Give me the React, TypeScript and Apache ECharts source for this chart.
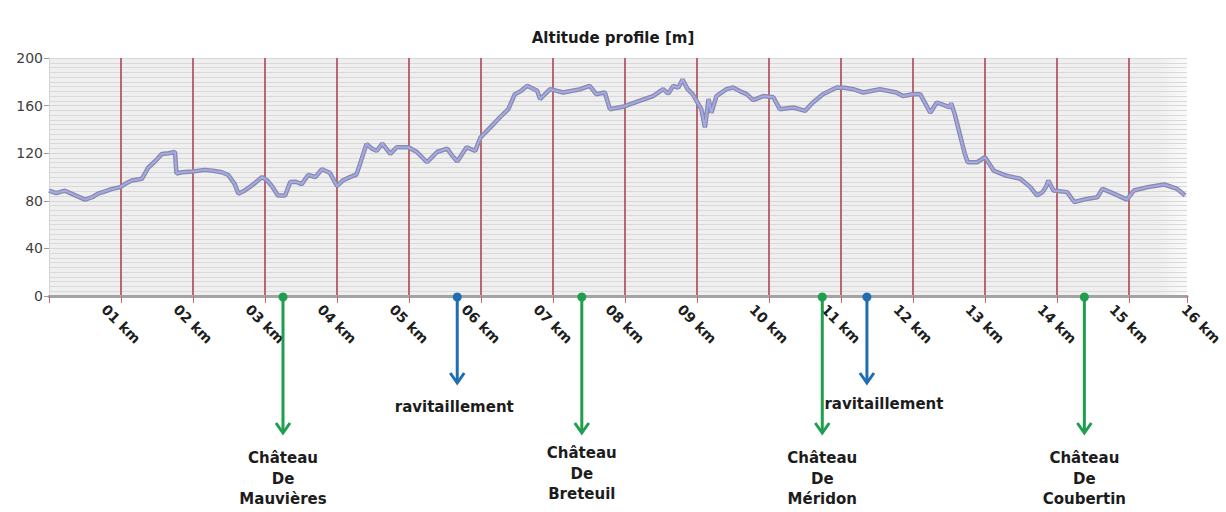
import React, { useEffect, useRef } from "react";
import * as echarts from "echarts";

// Altitude profile: [distance km, altitude m]
const profile: [number, number][] = [
  [0.0, 88.5], [0.1, 86.5], [0.22, 88.5], [0.35, 85], [0.5, 81], [0.6, 83], [0.68, 86],
  [0.78, 88], [0.88, 90], [0.99, 91.5], [1.08, 95], [1.15, 97], [1.29, 98.5], [1.38, 108],
  [1.47, 113], [1.57, 119.4], [1.66, 120], [1.75, 121], [1.77, 103], [1.85, 104], [1.99, 104.6],
  [2.17, 106], [2.3, 105], [2.4, 104], [2.49, 101.7], [2.58, 94], [2.63, 86], [2.7, 88],
  [2.82, 93], [2.96, 100], [3.03, 97], [3.1, 92], [3.18, 84.5], [3.28, 84.5], [3.35, 95.7],
  [3.43, 96], [3.51, 94], [3.6, 101.7], [3.7, 100], [3.79, 106.5], [3.9, 103.6], [4.0, 92.5],
  [4.08, 97], [4.18, 99.9], [4.27, 102], [4.32, 111], [4.41, 127.8], [4.48, 124], [4.55, 122],
  [4.63, 128], [4.74, 119.4], [4.83, 125], [4.99, 125], [5.11, 121], [5.25, 112.4], [5.39, 121],
  [5.53, 123.8], [5.6, 118], [5.67, 113], [5.8, 125], [5.92, 122], [5.99, 133], [6.13, 141.7],
  [6.26, 150], [6.38, 157], [6.47, 169.6], [6.55, 172], [6.64, 176.6], [6.78, 172.5], [6.82, 165.5],
  [6.96, 173.8], [7.14, 171], [7.38, 173.8], [7.51, 176.6], [7.6, 169.6], [7.72, 171], [7.79, 157],
  [7.97, 159], [8.2, 164], [8.39, 168], [8.53, 173.8], [8.6, 170], [8.67, 176.6], [8.74, 175],
  [8.8, 182], [8.87, 173.8], [8.94, 169.6], [9.06, 157], [9.11, 141.7], [9.16, 165.5], [9.2, 154],
  [9.27, 168], [9.41, 173.8], [9.5, 175.2], [9.6, 172], [9.69, 169.6], [9.78, 164.6], [9.92, 168],
  [10.06, 167], [10.15, 157], [10.34, 158.4], [10.5, 155.6], [10.61, 162.6], [10.75, 169.6],
  [10.94, 175.2], [11.05, 175], [11.17, 173.8], [11.31, 171], [11.54, 173.8], [11.77, 171],
  [11.86, 168], [12.0, 169.6], [12.1, 169.6], [12.24, 154], [12.33, 162.6], [12.45, 160],
  [12.51, 158.4], [12.53, 162], [12.58, 152.8], [12.65, 136], [12.72, 119.4], [12.76, 112.4],
  [12.89, 112.4], [13.0, 116.6], [13.12, 105.4], [13.3, 101], [13.49, 98.5], [13.63, 91.5],
  [13.72, 84.5], [13.8, 87.3], [13.85, 92], [13.88, 97], [13.95, 88.7], [14.14, 87.3], [14.24, 79],
  [14.43, 81.8], [14.56, 83], [14.63, 90], [14.79, 86], [14.97, 81], [15.07, 88.7], [15.26, 91.5],
  [15.49, 93.7], [15.67, 90], [15.78, 84.5],
];

const titleText = "Altitude profile [m]";
const castleKm = [3.25, 7.4, 10.74, 14.38];
const castleNames = [
  ["Château", "De", "Mauvières"],
  ["Château", "De", "Breteuil"],
  ["Château", "De", "Méridon"],
  ["Château", "De", "Coubertin"],
];
const supplyKm = [5.67, 11.36];
const supplyLabel = "ravitaillement";

// layout tweaks for annotation texts (pixel offsets)
const castleTextDy = [0, -5, 0, 0];
const supplyTextDx = [-3, 17];
const supplyTextDy = [0, -3];

const GREEN = "#1f9e4e";
const BLUE = "#1f6db3";
const FONT = '"DejaVu Sans", sans-serif';

export default function App() {
  const ref = useRef<HTMLDivElement>(null);

  useEffect(() => {
    const chart = echarts.init(ref.current!, null, { renderer: "svg" });
    const plotMax = 1138 / 72;
    chart.setOption({
      animation: false,
      backgroundColor: "#ffffff",
      title: {
        text: titleText,
        left: "center",
        top: 25,
        textStyle: { fontFamily: FONT, fontSize: 15, fontWeight: "bold", color: "#1a1a1a" },
      },
      grid: [
        {
          left: 49, top: 58, width: 1138, height: 238, show: true, borderWidth: 0,
          backgroundColor: new echarts.graphic.LinearGradient(0, 0, 1, 0, [
            { offset: 0, color: "#efefef" },
            { offset: 0.975, color: "#efefef" },
            { offset: 1, color: "#fbfbfb" },
          ]),
        },
        { left: 49, top: 58, width: 1152, height: 238, show: false },
      ],
      xAxis: [
        {
          gridIndex: 0, type: "value", min: 0, max: plotMax, interval: 1,
          axisLine: { show: true, onZero: false, lineStyle: { color: "#a3a3a3", width: 3 } },
          axisTick: { show: true, length: 7, lineStyle: { color: "#cf6470", width: 1 } },
          axisLabel: { show: false },
          splitLine: {
            show: true, showMinLine: false, showMaxLine: false,
            lineStyle: { color: "#a63c4c", width: 1.5 },
          },
        },
        {
          gridIndex: 1, type: "value", min: 0, max: 16, interval: 1,
          axisLine: { show: false }, axisTick: { show: false }, splitLine: { show: false },
          axisLabel: {
            rotate: -45, align: "center", verticalAlign: "middle", margin: 28,
            fontFamily: FONT, fontSize: 14, fontWeight: "bold", color: "#1e1e1e",
            showMinLabel: true, showMaxLabel: true,
            formatter: (v: number) => (v === 0 ? "" : (v < 10 ? "0" + v : "" + v) + " km"),
          },
        },
      ],
      yAxis: [
        {
          gridIndex: 0, type: "value", min: 0, max: 200, interval: 40,
          axisLine: { show: true, lineStyle: { color: "#d4d4d4", width: 1 } },
          axisTick: { show: true, length: 5, lineStyle: { color: "#9a9a9a" } },
          axisLabel: { margin: 6, fontFamily: FONT, fontSize: 14, color: "#404040" },
          splitLine: { show: true, lineStyle: { color: "#d7d7d7", width: 1 } },
          minorTick: { show: false, splitNumber: 10 },
          minorSplitLine: { show: true, lineStyle: { color: "#d9d9d9", width: 1 } },
        },
        { gridIndex: 1, type: "value", min: 0, max: 200, show: false },
      ],
      series: [
        {
          type: "line", xAxisIndex: 0, yAxisIndex: 0, data: profile, showSymbol: false,
          lineStyle: { color: "#8a8aa6", width: 4.5 }, z: 3, silent: true,
        },
        {
          type: "line", xAxisIndex: 0, yAxisIndex: 0, data: profile, showSymbol: false,
          lineStyle: { color: "#a3a9ea", width: 2 }, z: 4, silent: true,
        },
      ],
    });

    const axisY = chart.convertToPixel({ yAxisIndex: 0 }, 0) as number;
    const px = (km: number) => chart.convertToPixel({ xAxisIndex: 0 }, km) as number;
    const elements: any[] = [];
    const arrow = (x: number, tipY: number, color: string) => {
      elements.push({
        type: "line", z: 100,
        shape: { x1: x, y1: axisY, x2: x, y2: tipY },
        style: { stroke: color, lineWidth: 3 },
      });
      elements.push({
        type: "polyline", z: 100,
        shape: { points: [[x - 7, tipY - 10], [x, tipY], [x + 7, tipY - 10]] },
        style: { stroke: color, lineWidth: 3, fill: null },
      });
      elements.push({
        type: "circle", z: 101,
        shape: { cx: x, cy: axisY + 1, r: 4.5 },
        style: { fill: color },
      });
    };
    const label = (text: string, x: number, y: number) => {
      elements.push({
        type: "text", z: 102, x, y,
        style: {
          text, align: "center", verticalAlign: "middle",
          font: `bold 15px ${FONT}`, fill: "#1c1c1c",
        },
      });
    };
    castleKm.forEach((km, i) => {
      const x = px(km);
      arrow(x, axisY + 137, GREEN);
      castleNames[i].forEach((t, j) => label(t, x, axisY + 162 + castleTextDy[i] + j * 20.5));
    });
    supplyKm.forEach((km, i) => {
      const x = px(km);
      arrow(x, axisY + 87, BLUE);
      label(supplyLabel, x + supplyTextDx[i], axisY + 111 + supplyTextDy[i]);
    });
    chart.setOption({ graphic: { elements } });

    return () => chart.dispose();
  }, []);

  return (
    <div
      ref={ref}
      style={{ position: "absolute", left: 0, top: 0, width: 1226, height: 512, background: "#fff" }}
    />
  );
}
